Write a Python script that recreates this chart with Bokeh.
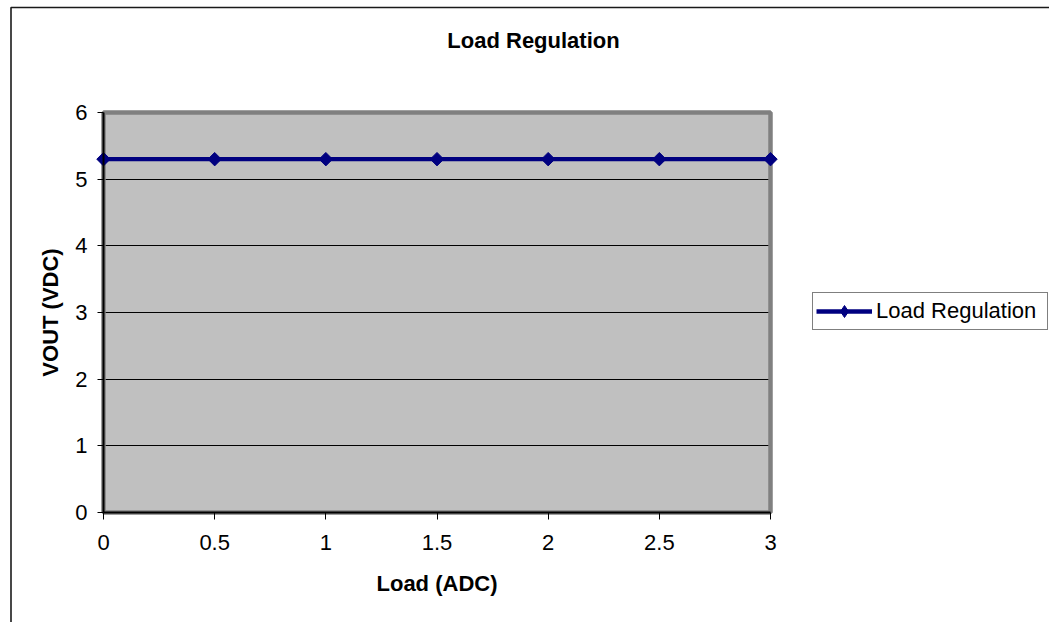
from bokeh.plotting import figure
from bokeh.models import Legend, LegendItem, FixedTicker, Range1d, BoxAnnotation, Label
from bokeh.embed import file_html
from bokeh.resources import INLINE
import numpy as np

# ---- data ----
load_adc = [0, 0.5, 1, 1.5, 2, 2.5, 3]
vout_vdc = [5.3, 5.3, 5.3, 5.3, 5.3, 5.3, 5.3]
x_ticks = [0, 0.5, 1, 1.5, 2, 2.5, 3]
x_tick_labels = ["0", "0.5", "1", "1.5", "2", "2.5", "3"]
y_ticks = [0, 1, 2, 3, 4, 5, 6]
title_text = "Load Regulation"
series_name = "Load Regulation"
x_label = "Load (ADC)"
y_label = "VOUT (VDC)"

# ---- layout (pixels) ----
W, H = 1049, 622
PL, PR, PT, PB = 103, 770, 112, 512   # plot-area edges
FONT = "Liberation Sans"
FS = "22px"
NAVY = "#000080"

x0, x1 = x_ticks[0], x_ticks[-1]
y0, y1 = y_ticks[0], y_ticks[-1]
ux = (PR - PL) / (x1 - x0)
uy = (PB - PT) / (y1 - y0)
x_range = Range1d(x0 - PL / ux, x1 + (W - PR) / ux)
y_range = Range1d(y0 - (H - PB) / uy, y1 + PT / uy)

p = figure(width=W, height=H, output_backend="svg", toolbar_location=None,
           x_range=x_range, y_range=y_range, min_border=0)
p.background_fill_color = "white"
p.border_fill_color = "white"
p.outline_line_color = None

# outer chart border
p.add_layout(BoxAnnotation(left=10.5, right=W + 50, top=H - 7, bottom=-50,
                           left_units="screen", right_units="screen",
                           top_units="screen", bottom_units="screen",
                           fill_color=None, line_color="#1a1a1a", line_alpha=1,
                           line_width=1.6, level="image"))

# plot area
p.add_layout(BoxAnnotation(left=x0, right=x1, bottom=y0, top=y1,
                           fill_color="#C0C0C0", fill_alpha=1,
                           line_color=None, level="image"))
p.add_layout(BoxAnnotation(left=x0, right=x1, bottom=y0, top=y1,
                           fill_color=None, line_color="#808080", line_alpha=1,
                           line_width=4.5, level="underlay"))

# grid
p.xgrid.visible = False
g = p.ygrid[0]
g.ticker = FixedTicker(ticks=y_ticks)
g.grid_line_color = "black"
g.grid_line_width = 1
g.bounds = (y0, y1)
if "cross_bounds" in g.properties():
    g.cross_bounds = (x0, x1)
else:
    g.visible = False
    p.segment(x0=[x0] * (len(y_ticks) - 2), x1=[x1] * (len(y_ticks) - 2),
              y0=y_ticks[1:-1], y1=y_ticks[1:-1], line_color="black",
              line_width=1, level="underlay")

# axes
xa = p.xaxis[0]
ya = p.yaxis[0]
xa.fixed_location = y0
ya.fixed_location = x0
xa.bounds = (x0, x1)
ya.bounds = (y0, y1)
xa.ticker = FixedTicker(ticks=x_ticks)
xa.major_label_overrides = {t: l for t, l in zip(x_ticks, x_tick_labels)}
ya.ticker = FixedTicker(ticks=y_ticks)
for ax in (xa, ya):
    ax.axis_line_color = "black"
    ax.axis_line_width = 2
    ax.major_tick_line_color = "black"
    ax.major_tick_line_width = 1
    ax.major_tick_in = 0
    ax.minor_tick_line_color = None
    ax.major_label_text_font = FONT
    ax.major_label_text_font_size = FS
    ax.major_label_text_color = "black"
    ax.axis_label_text_font = FONT
    ax.axis_label_text_font_size = FS
    ax.axis_label_text_font_style = "bold"
    ax.axis_label_text_color = "black"
xa.major_tick_out = 7
ya.major_tick_out = 6
xa.major_label_standoff = 15
ya.major_label_standoff = 10
xa.axis_label = x_label
ya.axis_label = y_label
xa.axis_label_standoff = 18
ya.axis_label_standoff = 9

# series
line_r = p.line(load_adc, vout_vdc, line_color=NAVY, line_width=4.3)
p.scatter(load_adc, vout_vdc, marker="square", angle=np.pi / 4, size=9.5,
          fill_color=NAVY, line_color=NAVY)
lg_mark = p.scatter(load_adc, vout_vdc, marker="diamond", size=12,
                    fill_color=NAVY, line_color=NAVY, visible=False)

legend = Legend(items=[LegendItem(label=series_name, renderers=[line_r, lg_mark])],
                location=(812, H - 330), margin=0, padding=3, spacing=0,
                glyph_width=56, glyph_height=30, label_height=25, label_width=168,
                label_standoff=4, label_text_font=FONT, label_text_font_size=FS,
                label_text_color="black",
                border_line_color="black", border_line_width=1,
                background_fill_color="white", background_fill_alpha=1)
p.add_layout(legend, "center")

# title
p.add_layout(Label(x=533, y=H - 40, x_units="screen", y_units="screen", text=title_text,
                   text_align="center", text_baseline="alphabetic",
                   text_font=FONT, text_font_size=FS, text_font_style="bold",
                   text_color="black"))

open("out.html", "w").write(file_html(p, INLINE))
